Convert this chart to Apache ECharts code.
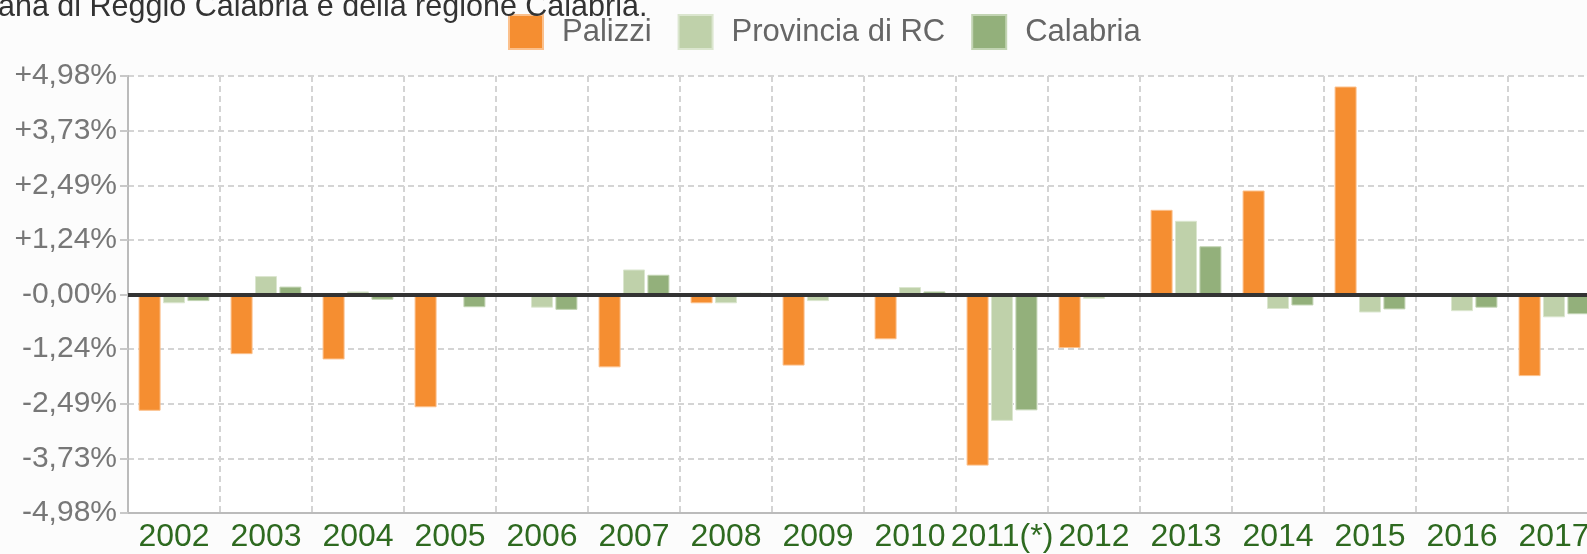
<!DOCTYPE html>
<html>
<head>
<meta charset="utf-8">
<script src="https://cdn.jsdelivr.net/npm/echarts@6/dist/echarts.min.js"></script>
<style>
html,body{margin:0;padding:0;background:#fcfcfc;overflow:hidden;width:1587px;height:554px;}
#chart{width:1700px;height:554px;}
</style>
</head>
<body>
<div id="chart"></div>
<script>
var categories = ['2002','2003','2004','2005','2006','2007','2008','2009','2010','2011(*)','2012','2013','2014','2015','2016','2017'];
var palizzi   = [-2.65,-1.36,-1.48,-2.57,0,-1.66,-0.20,-1.62,-1.02,-3.90,-1.22,1.93,2.37,4.74,0.03,-1.86];
var provincia = [-0.20,0.42,0.07,-0.04,-0.30,0.57,-0.20,-0.15,0.17,-2.88,-0.10,1.68,-0.33,-0.41,-0.38,-0.52];
var calabria  = [-0.15,0.18,-0.12,-0.29,-0.35,0.45,0.04,0,0.07,-2.64,0,1.10,-0.25,-0.34,-0.30,-0.45];
var seriesNames = ['Palizzi','Provincia di RC','Calabria'];
var yTickLabels = ['-4,98%','-3,73%','-2,49%','-1,24%','-0,00%','+1,24%','+2,49%','+3,73%','+4,98%'];
var yMin = -4.98, yMax = 4.98, yStep = 1.245;
var headText = 'ana di Reggio Calabria e della regione Calabria.';

var colors = ['#f58e31','#bfd1aa','#93b07b'];
var borders = ['#fbc08c','#dbe6cf','#c2d4b3'];
var font = 'Liberation Sans, Arial, sans-serif';
var chart = echarts.init(document.getElementById('chart'));
function bar(name, data, color, border){
  return {
    name: name, type: 'bar', data: data, barWidth: 22, barGap: '11%',
    itemStyle: {color: color, borderColor: border, borderWidth: 1}
  };
}
var s = [bar(seriesNames[0], palizzi, colors[0], borders[0]), bar(seriesNames[1], provincia, colors[1], borders[1]), bar(seriesNames[2], calabria, colors[2], borders[2])];
s[0].markLine = {
  silent: true, symbol: 'none', label: {show: false},
  lineStyle: {color: '#333', width: 4, type: 'solid'},
  data: [{yAxis: 0}]
};
chart.setOption({
  animation: false,
  backgroundColor: '#fcfcfc',
  textStyle: {fontFamily: font},
  title: {
    text: headText, left: -2, top: -8, padding: 0,
    textStyle: {fontSize: 30.5, fontWeight: 'normal', color: '#333', fontFamily: font}
  },
  legend: {
    left: 508, top: 14, padding: 0, itemWidth: 34, itemHeight: 34, itemGap: 26,
    icon: 'rect',
    textStyle: {fontSize: 31, color: '#666', fontFamily: font, padding: [0,0,0,14]},
    data: seriesNames
  },
  grid: {left: 128, top: 76, width: 1472, height: 437, show: true, backgroundColor: '#ffffff', borderWidth: 0},
  xAxis: {
    type: 'category', data: categories,
    axisLine: {show: true, onZero: false, lineStyle: {color: '#bbbbbb', width: 2}},
    axisTick: {show: false},
    axisLabel: {interval: 0, color: '#2e6a20', fontSize: 32, margin: 8, fontFamily: font},
    splitLine: {show: true, interval: 0, lineStyle: {color: '#d4d4d4', width: 2, type: [6, 4]}}
  },
  yAxis: {
    type: 'value', min: yMin, max: yMax, interval: yStep,
    axisLine: {show: true, lineStyle: {color: '#bbbbbb', width: 2}},
    axisTick: {show: true, length: 8, lineStyle: {color: '#c8c8c8', width: 2}},
    axisLabel: {
      color: '#777', fontSize: 30, margin: 11, fontFamily: font,
      formatter: function(v){ return yTickLabels[Math.round((v - yMin) / yStep)]; }
    },
    splitLine: {show: true, lineStyle: {color: '#d4d4d4', width: 2, type: [6, 4]}}
  },
  series: s
});
</script>
</body>
</html>
